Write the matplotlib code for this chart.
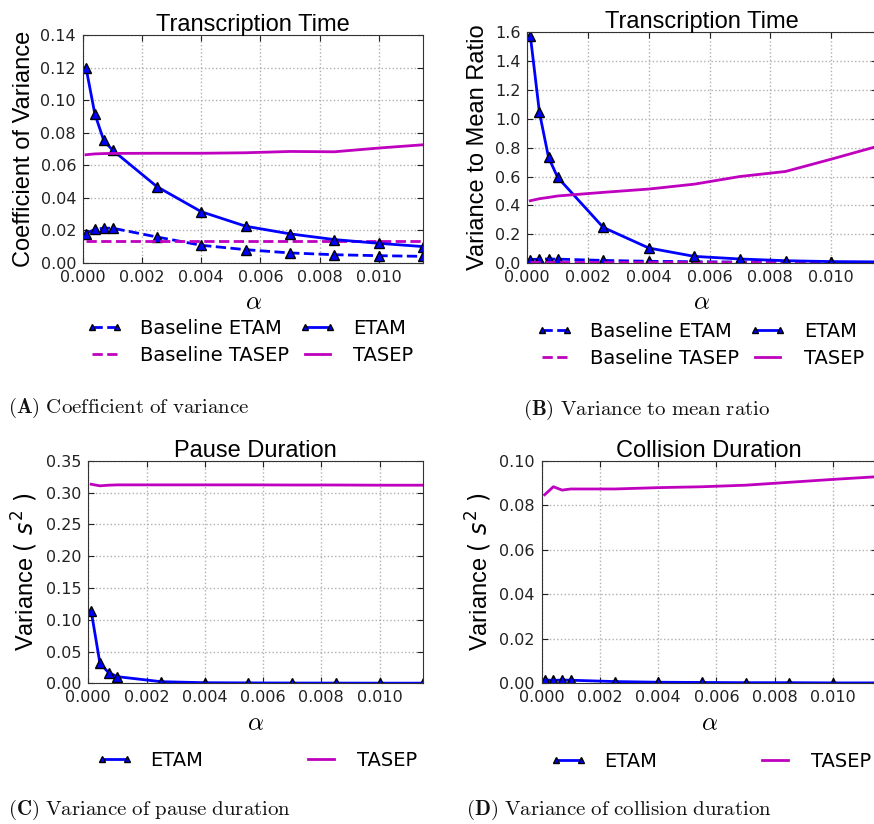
import matplotlib
matplotlib.use('Agg')
import matplotlib.pyplot as plt
import numpy as np

# alpha values (shared by all panels)
alpha = [0.0001, 0.0004, 0.0007, 0.001, 0.0025, 0.004, 0.0055, 0.007, 0.0085, 0.010, 0.0115]

# (A) coefficient of variance of transcription time
cv_etam = [0.120, 0.0915, 0.0753, 0.0693, 0.0469, 0.0315, 0.0226, 0.0179, 0.0144, 0.0121, 0.0101]
cv_base_etam = [0.0181, 0.0206, 0.0214, 0.0214, 0.0160, 0.0109, 0.0082, 0.0062, 0.0051, 0.0045, 0.0041]
cv_tasep = [0.0665, 0.0670, 0.0672, 0.0673, 0.0674, 0.0674, 0.0677, 0.0685, 0.0683, 0.0706, 0.0726]
cv_base_tasep = [0.0137, 0.0137, 0.0137, 0.0137, 0.0137, 0.0137, 0.0137, 0.0137, 0.0137, 0.0137, 0.0137]

# (B) variance to mean ratio of transcription time
vmr_etam = [1.577, 1.044, 0.732, 0.594, 0.247, 0.104, 0.046, 0.028, 0.016, 0.010, 0.008]
vmr_base_etam = [0.024, 0.027, 0.028, 0.027, 0.018, 0.012, 0.009, 0.007, 0.006, 0.005, 0.004]
vmr_tasep = [0.432, 0.446, 0.455, 0.465, 0.490, 0.513, 0.547, 0.600, 0.635, 0.720, 0.808]
vmr_base_tasep = [0.008, 0.008, 0.008, 0.008, 0.008, 0.008, 0.008, 0.008, 0.008, 0.008, 0.008]

# (C) variance of pause duration
pause_etam = [0.1137, 0.0314, 0.0168, 0.0105, 0.0026, 0.0010, 0.0007, 0.0005, 0.0004, 0.0003, 0.0003]
pause_tasep = [0.3130, 0.3105, 0.3115, 0.3120, 0.3120, 0.3120, 0.3120, 0.3118, 0.3118, 0.3115, 0.3115]

# (D) variance of collision duration
coll_etam = [0.0016, 0.0013, 0.0015, 0.0014, 0.0008, 0.0005, 0.0004, 0.0003, 0.0003, 0.0002, 0.0002]
coll_tasep = [0.0847, 0.0883, 0.0868, 0.0873, 0.0873, 0.0879, 0.0883, 0.0890, 0.0903, 0.0916, 0.0928]

blue = '#0000ff'
mag = '#bf00bf'
label_font = 'Liberation Sans'

fig = plt.figure(figsize=(8.74, 8.24), dpi=100)


def style_axes(ax, title, ylabel, ylim, ystep, yfmt):
    ax.set_xlim(0, 0.0115)
    ax.set_ylim(*ylim)
    ax.set_xticks(np.arange(0, 0.0101, 0.002))
    ax.set_xticklabels(['%.3f' % v for v in np.arange(0, 0.0101, 0.002)])
    yt = np.arange(ylim[0], ylim[1] + ystep / 2, ystep)
    ax.set_yticks(yt)
    ax.set_yticklabels([yfmt % v for v in yt])
    ax.tick_params(direction='in', top=True, right=True, labelsize=11.5, length=4,
                   colors='#222222', pad=5)
    ax.grid(True, linestyle=':', color='#b0b0b0', linewidth=1)
    for s in ax.spines.values():
        s.set_color('#333333')
    ax.set_title(title, fontsize=17, family=label_font, pad=3)
    ax.set_ylabel(ylabel, fontsize=17, family=label_font)
    ax.set_xlabel(r'$\alpha$', fontsize=18, math_fontfamily='cm')


mk = dict(marker='^', markersize=7, markerfacecolor=blue, markeredgecolor='black',
          markeredgewidth=1)
leg = dict(loc='center', ncol=2, frameon=False, fontsize=14, numpoints=2,
           markerscale=0.6, handlelength=1.9, handletextpad=0.9)

# panel A
axA = fig.add_axes([0.095, 0.6808, 0.389, 0.2767])
axA.plot(alpha, cv_base_etam, '--', color=blue, lw=2, label='Baseline ETAM', **mk)
axA.plot(alpha, cv_base_tasep, '--', color=mag, lw=2, label='Baseline TASEP')
axA.plot(alpha, cv_etam, '-', color=blue, lw=2, label='ETAM', **mk)
axA.plot(alpha, cv_tasep, '-', color=mag, lw=2, label='TASEP')
style_axes(axA, 'Transcription Time', 'Coefficient of Variance', (0, 0.14), 0.02, '%.2f')
axA.legend(bbox_to_anchor=(0.49, -0.345), columnspacing=0.5, labelspacing=0.4, **leg)

# panel B
axB = fig.add_axes([0.6033, 0.6808, 0.3998, 0.280])
axB.plot(alpha, vmr_base_etam, '--', color=blue, lw=2, label='Baseline ETAM', **mk)
axB.plot(alpha, vmr_base_tasep, '--', color=mag, lw=2, label='Baseline TASEP')
axB.plot(alpha, vmr_etam, '-', color=blue, lw=2, label='ETAM', **mk)
axB.plot(alpha, vmr_tasep, '-', color=mag, lw=2, label='TASEP')
style_axes(axB, 'Transcription Time', 'Variance to Mean Ratio', (0, 1.6), 0.2, '%.1f')
axB.legend(bbox_to_anchor=(0.494, -0.356), columnspacing=0.5, labelspacing=0.4, **leg)

# panel C
axC = fig.add_axes([0.101, 0.1707, 0.3833, 0.2702])
axC.plot(alpha, pause_etam, '-', color=blue, lw=2, label='ETAM', **mk)
axC.plot(alpha, pause_tasep, '-', color=mag, lw=2, label='TASEP')
style_axes(axC, 'Pause Duration', r'Variance $\left(\ s^2\ \right)$', (0, 0.35), 0.05, '%.2f')
axC.legend(bbox_to_anchor=(0.502, -0.345), columnspacing=5.1, **leg)

# panel D
axD = fig.add_axes([0.6198, 0.1707, 0.3832, 0.2702])
axD.plot(alpha, coll_etam, '-', color=blue, lw=2, label='ETAM', **mk)
axD.plot(alpha, coll_tasep, '-', color=mag, lw=2, label='TASEP')
style_axes(axD, 'Collision Duration', r'Variance $\left(\ s^2\ \right)$', (0, 0.10), 0.02, '%.2f')
axD.legend(bbox_to_anchor=(0.504, -0.349), columnspacing=5.1, **leg)

# captions
cap = dict(fontsize=15, math_fontfamily='cm', va='center', ha='left', color='#111111')
fig.text(8 / 874, 1 - 408 / 824, r'$\mathbf{(A)}\ \mathrm{Coefficient\ of\ variance}$', **cap)
fig.text(523 / 874, 1 - 410 / 824, r'$\mathbf{(B)}\ \mathrm{Variance\ to\ mean\ ratio}$', **cap)
fig.text(8 / 874, 1 - 810 / 824, r'$\mathbf{(C)}\ \mathrm{Variance\ of\ pause\ duration}$', **cap)
fig.text(466 / 874, 1 - 810 / 824, r'$\mathbf{(D)}\ \mathrm{Variance\ of\ collision\ duration}$', **cap)

fig.savefig('out.png', dpi=100)
